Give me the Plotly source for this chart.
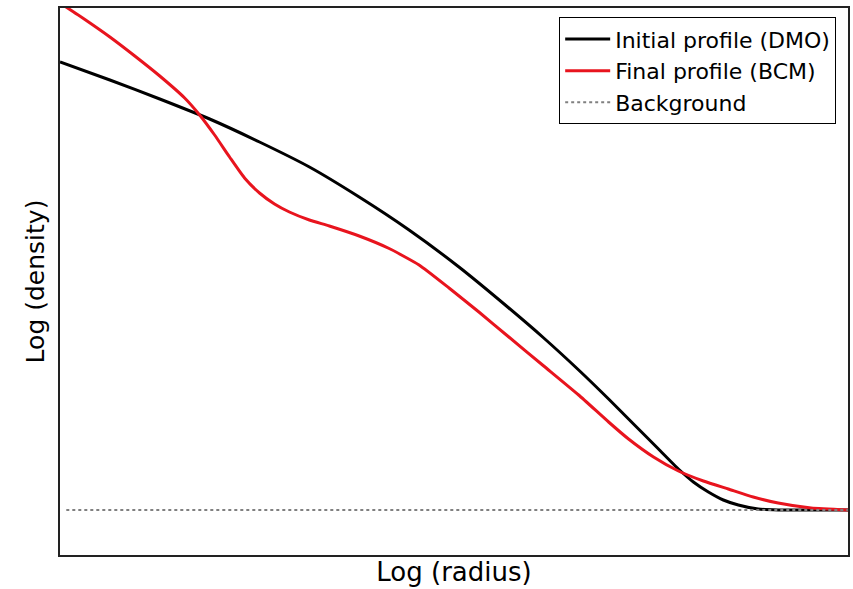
import plotly.graph_objects as go

# Log radius / log density profiles (arbitrary log units)
r_dmo = [0.000, 0.633, 1.266, 1.899, 2.532, 3.165, 3.797, 4.430, 5.063, 5.696,
         6.139, 6.582, 6.962, 7.215, 7.595, 7.848, 8.038, 8.228, 8.418, 8.608,
         8.861, 9.114, 10.0]
rho_dmo = [8.96, 8.60, 8.22, 7.82, 7.36, 6.86, 6.26, 5.60, 4.86, 4.04,
           3.44, 2.80, 2.22, 1.82, 1.22, 0.82, 0.56, 0.36, 0.20, 0.10,
           0.02, 0.0, 0.0]

r_bcm = [0.000, 0.316, 0.633, 0.949, 1.266, 1.582, 1.772, 1.962, 2.152, 2.342,
         2.532, 2.722, 2.911, 3.165, 3.418, 3.797, 4.177, 4.557, 4.937, 5.316,
         5.696, 6.139, 6.582, 6.962, 7.215, 7.532, 7.848, 8.165, 8.481, 8.797,
         9.114, 9.532, 10.0]
rho_bcm = [10.14, 9.81, 9.46, 9.08, 8.68, 8.24, 7.90, 7.50, 7.06, 6.64,
           6.34, 6.12, 5.96, 5.80, 5.68, 5.48, 5.23, 4.90, 4.44, 3.96,
           3.46, 2.88, 2.30, 1.76, 1.42, 1.06, 0.78, 0.58, 0.42, 0.26,
           0.14, 0.04, 0.0]

r_bg = [0.08, 10.0]
rho_bg = [0.0, 0.0]

font = "DejaVu Sans"

fig = go.Figure()
fig.add_trace(go.Scatter(x=r_dmo, y=rho_dmo, mode="lines", name="Initial profile (DMO)",
                         legendgroup="dmo",
                         line=dict(color="black", width=3, shape="spline", smoothing=0.5)))
fig.add_trace(go.Scatter(x=r_bcm, y=rho_bcm, mode="lines", name="Final profile (BCM)",
                         legendgroup="bcm",
                         line=dict(color="#e8141e", width=3, shape="spline", smoothing=0.5)))
fig.add_trace(go.Scatter(x=r_bg, y=rho_bg, mode="lines", name="Background",
                         legendgroup="bg",
                         line=dict(color="gray", width=2, dash="dot")))

axis_common = dict(showgrid=False, zeroline=False, showticklabels=False, ticks="",
                   showline=True, linecolor="#222", linewidth=2, mirror=True)

fig.update_layout(
    width=853, height=589,
    margin=dict(l=60, r=3, t=8, b=34),
    paper_bgcolor="white", plot_bgcolor="white",
    font=dict(family=font, color="black"),
    xaxis=dict(range=[0, 10], title=dict(text="Log (radius)", font=dict(size=26), standoff=7),
               **axis_common),
    yaxis=dict(range=[-0.9, 10.04], title=dict(text="Log (density)", font=dict(size=25), standoff=6),
               **axis_common),
    legend=dict(x=0.985, y=0.983, xanchor="right", yanchor="top",
                bordercolor="black", borderwidth=1, bgcolor="white",
                font=dict(size=22, family=font), traceorder="grouped",
                tracegroupgap=0, itemwidth=45),
    showlegend=True,
)

fig.write_html("out.html")
